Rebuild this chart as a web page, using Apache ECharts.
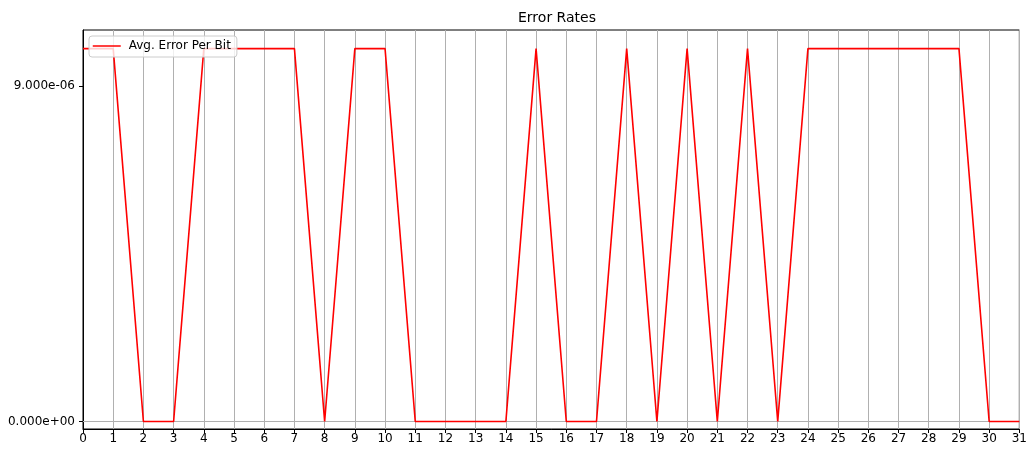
<!DOCTYPE html>
<html>
<head>
<meta charset="utf-8">
<script src="https://cdn.jsdelivr.net/npm/echarts@6/dist/echarts.min.js"></script>
<style>
  html, body { margin: 0; padding: 0; background: #fff; overflow: hidden; }
  #chart { width: 1030px; height: 450px; }
</style>
</head>
<body>
<div id="chart"></div>
<script>
// Error rate per run index
const runIndex = [0, 1, 2, 3, 4, 5, 6, 7, 8, 9, 10, 11, 12, 13, 14, 15,
                  16, 17, 18, 19, 20, 21, 22, 23, 24, 25, 26, 27, 28, 29, 30, 31];
const avgErrorPerBit = [1e-5, 1e-5, 0, 0, 1e-5, 1e-5, 1e-5, 1e-5, 0, 1e-5, 1e-5, 0, 0, 0, 0, 1e-5,
                        0, 0, 1e-5, 0, 1e-5, 0, 1e-5, 0, 1e-5, 1e-5, 1e-5, 1e-5, 1e-5, 1e-5, 0, 0];
const yTickValues = [0, 9e-6];

const FONT = 'DejaVu Sans';

function sciLabel(v) {
  const s = Number(v).toExponential(3);
  const [m, e] = s.split('e');
  const sign = e[0] === '-' ? '-' : '+';
  const digits = e.replace(/[+-]/, '').padStart(2, '0');
  return m + 'e' + sign + digits;
}

const chart = echarts.init(document.getElementById('chart'), null, { renderer: 'canvas' });

chart.setOption({
  animation: false,
  backgroundColor: '#ffffff',
  title: {
    text: 'Error Rates',
    left: 552,
    textAlign: 'center',
    top: 6,
    textStyle: { fontFamily: FONT, fontSize: 14, fontWeight: 'normal', color: '#000' }
  },
  legend: {
    z: 20,
    left: 89,
    top: 36,
    padding: [4, 6, 5, 3],
    itemWidth: 28,
    itemHeight: 14,
    itemGap: 5,
    backgroundColor: 'rgba(255,255,255,0.8)',
    borderColor: '#cccccc',
    borderWidth: 1,
    borderRadius: 3,
    itemStyle: { opacity: 0 },
    lineStyle: { width: 1.5 },
    textStyle: { fontFamily: FONT, fontSize: 12, color: '#000', padding: [0, 0, 0, 3] },
    data: ['Avg. Error Per Bit']
  },
  grid: {
    left: 83, right: 9, top: 30, bottom: 21,
    show: true, borderColor: '#000', borderWidth: 1, backgroundColor: 'transparent'
  },
  xAxis: {
    type: 'value',
    min: 0, max: 31, interval: 1,
    axisLine: { show: true, onZero: false, lineStyle: { color: '#000', width: 1 } },
    axisTick: { show: true, length: 4, lineStyle: { color: '#000' } },
    axisLabel: { fontFamily: FONT, fontSize: 12, color: '#000', margin: 4, showMinLabel: true, showMaxLabel: true },
    splitLine: { show: true, lineStyle: { color: '#b0b0b0', width: 1 } }
  },
  yAxis: {
    type: 'value',
    min: -2e-7, max: 1.05e-5,
    axisLine: { show: true, onZero: false, lineStyle: { color: '#000', width: 1 } },
    axisTick: { show: true, length: 4, customValues: yTickValues, lineStyle: { color: '#000' } },
    axisLabel: {
      fontFamily: FONT, fontSize: 12, color: '#000', margin: 8,
      customValues: yTickValues,
      formatter: sciLabel
    },
    splitLine: { show: false }
  },
  series: [
    {
      // horizontal grid lines at the labelled y ticks, kept beneath the data line
      name: '_ygrid',
      type: 'line',
      data: [],
      z: 1,
      silent: true,
      markLine: {
        silent: true,
        z: 1,
        symbol: 'none',
        label: { show: false },
        lineStyle: { color: '#b0b0b0', width: 1, type: 'solid' },
        data: yTickValues.map(v => ({ yAxis: v }))
      }
    },
    {
      name: 'Avg. Error Per Bit',
      type: 'line',
      z: 3,
      symbol: 'none',
      lineStyle: { color: '#ff0000', width: 1.6 },
      itemStyle: { color: '#ff0000' },
      data: runIndex.map((x, i) => [x, avgErrorPerBit[i]])
    }
  ]
});
</script>
</body>
</html>
